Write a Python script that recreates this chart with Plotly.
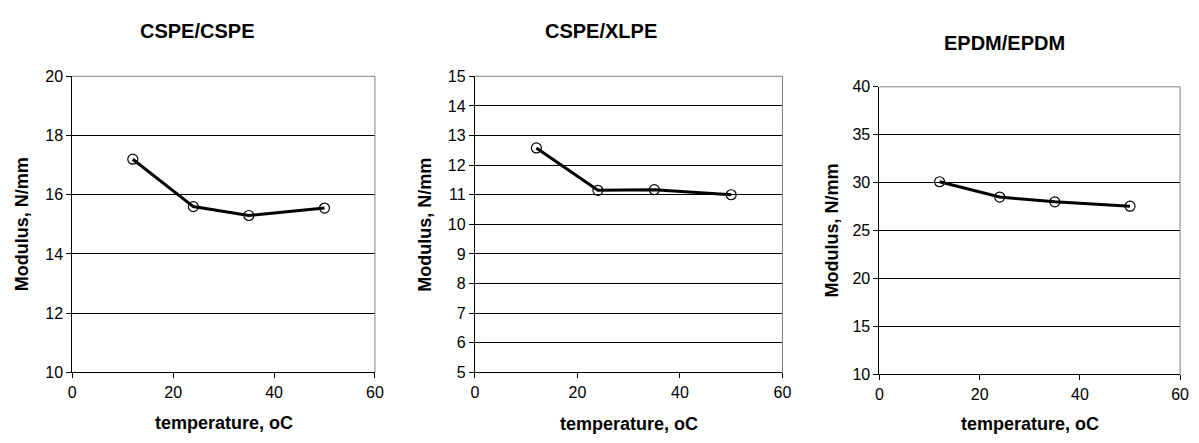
import plotly.graph_objects as go

W, H = 1199, 443

temperature = [12, 24, 35, 50]
cspe_cspe = [17.2, 15.6, 15.3, 15.55]
cspe_xlpe = [12.58, 11.15, 11.17, 11.0]
epdm_epdm = [30.1, 28.5, 28.0, 27.55]

titles = ["CSPE/CSPE", "CSPE/XLPE", "EPDM/EPDM"]
series = [cspe_cspe, cspe_xlpe, epdm_epdm]
y_ranges = [[10, 20], [5, 15], [10, 40]]
y_dticks = [2, 1, 5]
x_range = [0, 60]
x_dtick = 20
x_title = "temperature, oC"
y_title = "Modulus, N/mm"

# pixel geometry of plot areas (left, right, top, bottom)
boxes = [(69, 375, 71, 379), (476, 787, 71, 379), (885, 1189, 82, 381)]
title_pos = [(195, 24), (604, 24), (1011, 36)]
ytitle_x = [19, 426, 837]
xtitle_y = [432, 433, 433]

FONT = "Liberation Sans, Arial, sans-serif"

fig = go.Figure()
annotations = []
shapes = []

for i, (t, ys) in enumerate(zip(titles, series)):
    n = "" if i == 0 else str(i + 1)
    l, r, tp, b = boxes[i]
    fig.add_trace(go.Scatter(
        x=temperature, y=ys, mode="lines+markers",
        xaxis="x" + n, yaxis="y" + n,
        line=dict(color="black", width=3),
        marker=dict(symbol="circle-open", size=10, color="black", line=dict(width=1.2)),
        showlegend=False, hoverinfo="x+y",
    ))
    xd = [l / W, r / W]
    yd = [1 - b / H, 1 - tp / H]
    fig.layout["xaxis" + n] = dict(
        domain=xd, range=x_range, dtick=x_dtick, tick0=0,
        anchor="y" + n, showgrid=False, zeroline=False,
        showline=True, linecolor="black", linewidth=1,
        ticks="outside", ticklen=5, tickcolor="black",
        tickfont=dict(family=FONT, size=16, color="black"),
    )
    fig.layout["yaxis" + n] = dict(
        domain=yd, range=y_ranges[i], dtick=y_dticks[i], tick0=0,
        anchor="x" + n, showgrid=True, gridcolor="black", gridwidth=1,
        zeroline=False, showline=True, linecolor="black", linewidth=1,
        ticks="outside", ticklen=5, tickcolor="black",
        tickfont=dict(family=FONT, size=16, color="black"),
    )
    # plot-area frame (top/right in gray)
    shapes.append(dict(type="line", xref="paper", yref="paper",
                       x0=xd[0], x1=xd[1], y0=yd[1], y1=yd[1],
                       line=dict(color="#808080", width=1)))
    shapes.append(dict(type="line", xref="paper", yref="paper",
                       x0=xd[1], x1=xd[1], y0=yd[0], y1=yd[1],
                       line=dict(color="#808080", width=1)))
    tx, ty = title_pos[i]
    annotations.append(dict(text="<b>%s</b>" % t, x=tx / W, y=1 - ty / H,
                            xref="paper", yref="paper", showarrow=False,
                            xanchor="center", yanchor="middle",
                            font=dict(family=FONT, size=20, color="black")))
    annotations.append(dict(text="<b>%s</b>" % x_title, x=(l + r) / 2 / W,
                            y=1 - xtitle_y[i] / H, xref="paper", yref="paper",
                            showarrow=False, xanchor="center", yanchor="middle",
                            font=dict(family=FONT, size=18, color="black")))
    annotations.append(dict(text="<b>%s</b>" % y_title, x=ytitle_x[i] / W,
                            y=1 - (tp + b) / 2 / H, xref="paper", yref="paper",
                            showarrow=False, xanchor="center", yanchor="middle",
                            textangle=-90,
                            font=dict(family=FONT, size=18, color="black")))

fig.update_layout(
    width=W, height=H, margin=dict(l=0, r=0, t=0, b=0),
    paper_bgcolor="white", plot_bgcolor="white",
    annotations=annotations, shapes=shapes,
    font=dict(family=FONT, color="black"),
)

fig.write_html("out.html")
